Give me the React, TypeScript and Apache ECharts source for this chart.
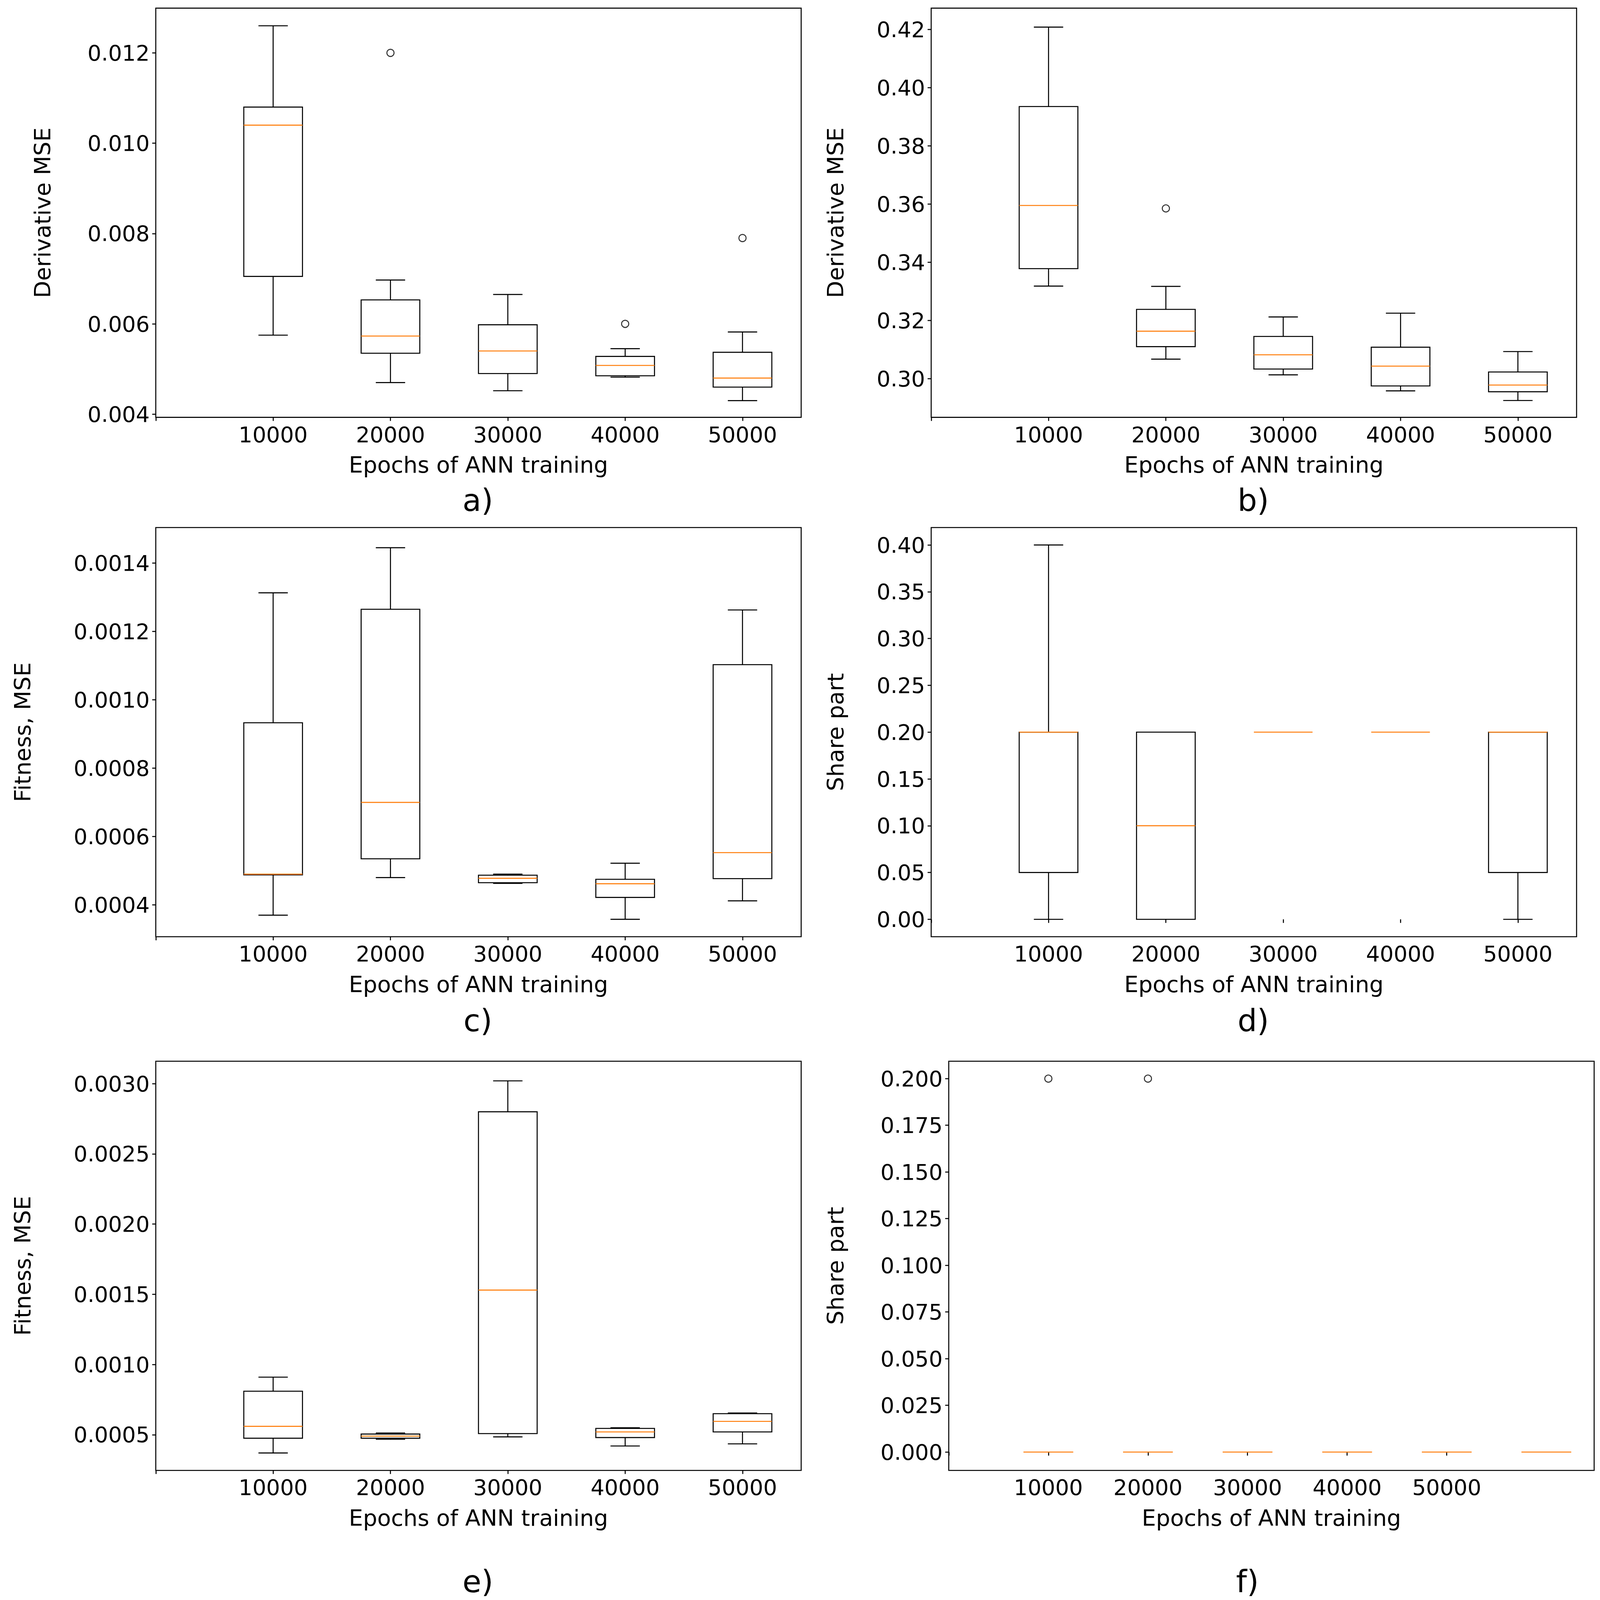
import * as echarts from "echarts";
import { useEffect, useRef } from "react";

// x labels shared by all panels
const epochs = ["10000", "20000", "30000", "40000", "50000"];

// [min, Q1, median, Q3, max] per box
const boxesA = [
  [0.00575, 0.00705, 0.0104, 0.0108, 0.0126],
  [0.0047, 0.00535, 0.00573, 0.00653, 0.00697],
  [0.00452, 0.0049, 0.0054, 0.00598, 0.00665],
  [0.00482, 0.00485, 0.00508, 0.00528, 0.00545],
  [0.0043, 0.0046, 0.0048, 0.00537, 0.00582],
];
const outliersA = [[2, 0.012], [4, 0.006], [5, 0.0079]];
const ticksA = [0.004, 0.006, 0.008, 0.01, 0.012];

const boxesB = [
  [0.3318, 0.3378, 0.3595, 0.3935, 0.4208],
  [0.3067, 0.311, 0.3163, 0.3238, 0.3317],
  [0.3013, 0.3033, 0.3082, 0.3145, 0.3212],
  [0.2958, 0.2975, 0.3043, 0.3108, 0.3225],
  [0.2925, 0.2955, 0.2978, 0.3023, 0.3093],
];
const outliersB = [[2, 0.3585]];
const ticksB = [0.3, 0.32, 0.34, 0.36, 0.38, 0.4, 0.42];

const boxesC = [
  [0.00037, 0.000488, 0.00049, 0.000933, 0.001313],
  [0.00048, 0.000535, 0.0007, 0.001265, 0.001445],
  [0.000463, 0.000465, 0.000478, 0.000487, 0.00049],
  [0.000358, 0.000422, 0.000462, 0.000475, 0.000522],
  [0.000412, 0.000477, 0.000553, 0.001103, 0.001263],
];
const ticksC = [0.0004, 0.0006, 0.0008, 0.001, 0.0012, 0.0014];

const boxesD = [
  [0, 0.05, 0.2, 0.2, 0.4],
  [0, 0, 0.1, 0.2, 0.2],
  [0.2, 0.2, 0.2, 0.2, 0.2],
  [0.2, 0.2, 0.2, 0.2, 0.2],
  [0, 0.05, 0.2, 0.2, 0.2],
];
const ticksD = [0, 0.05, 0.1, 0.15, 0.2, 0.25, 0.3, 0.35, 0.4];

const boxesE = [
  [0.00037, 0.000475, 0.00056, 0.00081, 0.00091],
  [0.000468, 0.000475, 0.00049, 0.000505, 0.000512],
  [0.000485, 0.000508, 0.00153, 0.0028, 0.00302],
  [0.00042, 0.00048, 0.00052, 0.000545, 0.00055],
  [0.000435, 0.00052, 0.000595, 0.00065, 0.000655],
];
const ticksE = [0.0005, 0.001, 0.0015, 0.002, 0.0025, 0.003];

const boxesF = [
  [0, 0, 0, 0, 0],
  [0, 0, 0, 0, 0],
  [0, 0, 0, 0, 0],
  [0, 0, 0, 0, 0],
  [0, 0, 0, 0, 0],
  [0, 0, 0, 0, 0],
];
const outliersF = [[1, 0.2], [2, 0.2]];
const ticksF = [0, 0.025, 0.05, 0.075, 0.1, 0.125, 0.15, 0.175, 0.2];

const FONT = "DejaVu Sans";

// layout in a 1366 x 1568 reference frame, scaled to the window
const panels = [
  { boxes: boxesA, out: outliersA, ticks: ticksA, dec: 3, name: "Derivative MSE", gap: 98, left: 133, top: 8, min: 0.00393, max: 0.01299, xmax: 5.5, letter: "a)" },
  { boxes: boxesB, out: outliersB, ticks: ticksB, dec: 2, name: "Derivative MSE", gap: 83, left: 795, top: 8, min: 0.2867, max: 0.4273, xmax: 5.5, letter: "b)" },
  { boxes: boxesC, out: [], ticks: ticksC, dec: 4, name: "Fitness, MSE", gap: 115, left: 133, top: 517, min: 0.000307, max: 0.001504, xmax: 5.5, letter: "c)" },
  { boxes: boxesD, out: [], ticks: ticksD, dec: 2, name: "Share part", gap: 83, left: 795, top: 517, min: -0.0186, max: 0.4186, xmax: 5.5, letter: "d)" },
  { boxes: boxesE, out: [], ticks: ticksE, dec: 4, name: "Fitness, MSE", gap: 115, left: 133, top: 1040, min: 0.000246, max: 0.00316, xmax: 5.5, letter: "e)" },
  { boxes: boxesF, out: outliersF, ticks: ticksF, dec: 3, name: "Share part", gap: 98, left: 810, top: 1040, min: -0.00984, max: 0.2093, xmax: 6.48, letter: "f)" },
];

const letterPos = [[408, 490], [1070, 490], [408, 1000], [1070, 1000], [408, 1550], [1065, 1550]];

const App = () => {
  const ref = useRef<HTMLDivElement>(null);

  useEffect(() => {
    if (!ref.current) return;
    const chart = echarts.init(ref.current, null, { renderer: "svg" });
    const W = chart.getWidth();
    const H = chart.getHeight();
    const sx = W / 1366;
    const sy = H / 1568;
    const s = Math.min(sx, sy);
    const lw = 1 * s;

    const grid = panels.map((p) => ({
      left: p.left * sx,
      top: p.top * sy,
      width: 551 * sx,
      height: 401 * sy,
      show: true,
      borderColor: "#000",
      borderWidth: lw,
      backgroundColor: "transparent",
    }));

    const xAxis = panels.map((p, i) => ({
      type: "value",
      gridIndex: i,
      min: 0,
      max: p.xmax,
      splitLine: { show: false },
      axisLine: { show: false },
      axisTick: { show: true, length: 3.5 * s, lineStyle: { color: "#000", width: lw }, customValues: [0, 1, 2, 3, 4, 5] },
      axisLabel: {
        customValues: [1, 2, 3, 4, 5],
        formatter: (v: number) => epochs[Math.round(v) - 1] || "",
        color: "#000",
        fontSize: 21.3 * s,
        fontFamily: FONT,
        margin: 6 * s,
      },
      name: "Epochs of ANN training",
      nameLocation: "middle",
      nameGap: 36 * s,
      nameTextStyle: { fontSize: 22 * s, fontFamily: FONT, color: "#000" },
    }));

    const yAxis = panels.map((p, i) => ({
      type: "value",
      gridIndex: i,
      min: p.min,
      max: p.max,
      splitLine: { show: false },
      axisLine: { show: false },
      axisTick: { show: true, length: 3.5 * s, lineStyle: { color: "#000", width: lw }, customValues: p.ticks },
      axisLabel: {
        customValues: p.ticks,
        formatter: (v: number) => v.toFixed(p.dec),
        color: "#000",
        fontSize: 21.3 * s,
        fontFamily: FONT,
        margin: 6 * s,
      },
      name: p.name,
      nameLocation: "middle",
      nameGap: (p.gap - 11) * sx,
      nameTextStyle: { fontSize: 22 * s, fontFamily: FONT, color: "#000" },
    }));

    const series: any[] = [];
    panels.forEach((p, i) => {
      series.push({
        type: "custom",
        xAxisIndex: i,
        yAxisIndex: i,
        encode: { x: 0, y: [1, 2, 3, 4, 5] },
        data: p.boxes.map((b, k) => [k + 1, ...b]),
        renderItem: (_params: any, api: any) => {
          const x = api.value(0);
          const v = [1, 2, 3, 4, 5].map((j) => api.value(j));
          const pt = (xx: number, yy: number) => api.coord([xx, yy]);
          const line = (a: number[], b: number[], color = "#000") => ({
            type: "line",
            shape: { x1: a[0], y1: a[1], x2: b[0], y2: b[1] },
            style: { stroke: color, lineWidth: lw },
          });
          const children: any[] = [];
          if (v[1] > v[0]) {
            children.push(line(pt(x, v[0]), pt(x, v[1])));
            children.push(line(pt(x - 0.125, v[0]), pt(x + 0.125, v[0])));
          }
          if (v[4] > v[3]) {
            children.push(line(pt(x, v[3]), pt(x, v[4])));
            children.push(line(pt(x - 0.125, v[4]), pt(x + 0.125, v[4])));
          }
          if (v[3] > v[1]) {
            const bl = pt(x - 0.25, v[3]);
            const br = pt(x + 0.25, v[1]);
            children.push({
              type: "rect",
              shape: { x: bl[0], y: bl[1], width: br[0] - bl[0], height: br[1] - bl[1] },
              style: { fill: "none", stroke: "#000", lineWidth: lw },
            });
          }
          children.push(line(pt(x - 0.25, v[2]), pt(x + 0.25, v[2]), "#ff7f0e"));
          return { type: "group", children };
        },
      });
      if (p.out.length) {
        series.push({
          type: "scatter",
          xAxisIndex: i,
          yAxisIndex: i,
          data: p.out,
          symbol: "circle",
          symbolSize: 7 * s,
          itemStyle: { color: "transparent", borderColor: "#000", borderWidth: lw },
        });
      }
    });

    chart.setOption({
      animation: false,
      backgroundColor: "#fff",
      grid,
      xAxis,
      yAxis,
      series,
      graphic: panels.map((p, i) => ({
        type: "text",
        x: letterPos[i][0] * sx,
        y: letterPos[i][1] * sy,
        style: { text: p.letter, fontSize: 30 * s, fontFamily: FONT, fill: "#000", align: "center", verticalAlign: "middle" },
      })),
    });

    return () => {
      chart.dispose();
    };
  }, []);

  return <div ref={ref} style={{ position: "fixed", left: 0, top: 0, width: "100vw", height: "100vh" }} />;
};

export default App;
